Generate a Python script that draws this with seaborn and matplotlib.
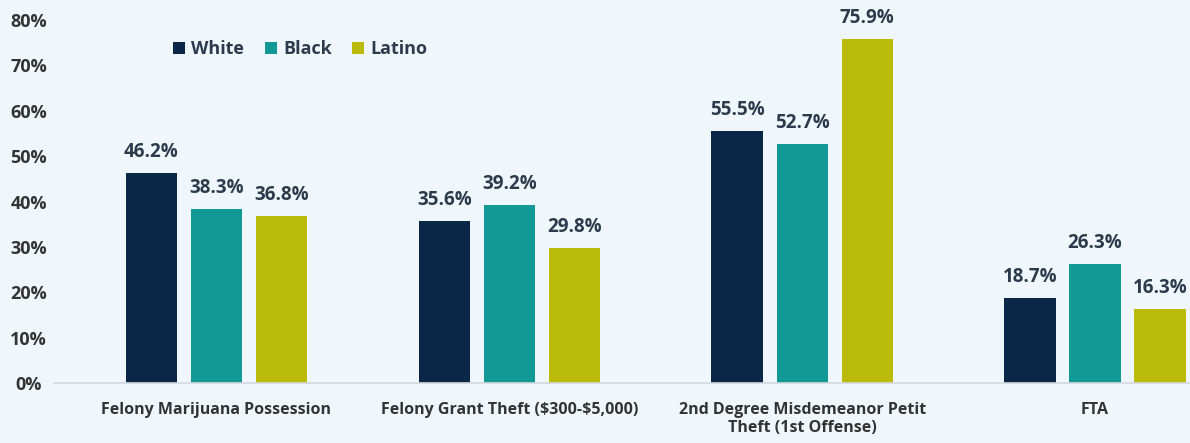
import pandas as pd
import seaborn as sns
import matplotlib.pyplot as plt

categories = ['Felony Marijuana Possession', r'Felony Grant Theft (\$300-\$5,000)',
              '2nd Degree Misdemeanor Petit\nTheft (1st Offense)', 'FTA']
groups = ['White', 'Black', 'Latino']
white = [46.2, 35.6, 55.5, 18.7]
black = [38.3, 39.2, 52.7, 26.3]
latino = [36.8, 29.8, 75.9, 16.3]
yticks = [0, 10, 20, 30, 40, 50, 60, 70, 80]

df = pd.DataFrame({
    'offense': categories * 3,
    'group': ['White'] * 4 + ['Black'] * 4 + ['Latino'] * 4,
    'pct': white + black + latino,
})

bg = '#f0f7fc'
palette = {'White': '#0b2747', 'Black': '#129895', 'Latino': '#b9bb08'}
plt.rcParams['font.family'] = ['Open Sans', 'DejaVu Sans']

fig = plt.figure(figsize=(11.9, 4.43), dpi=100, facecolor=bg)
ax = fig.add_axes([0.045, 0.1354, 0.955, 0.8194])
ax.set_facecolor(bg)

sns.barplot(ax=ax, data=df, x='offense', y='pct', hue='group', order=categories,
            hue_order=groups, palette=palette, width=0.666, gap=0.21,
            saturation=1, errorbar=None)

for c in ax.containers:
    ax.bar_label(c, fmt='%.1f%%', padding=8, fontsize=13.5, fontweight='bold',
                 color='#2c3b4c')

ax.set_xlim(-0.556, 3.324)
ax.set_ylim(0, 80)
ax.set_yticks(yticks)
ax.set_yticklabels([f'{t}%' for t in yticks])
ax.set_xlabel('')
ax.set_ylabel('')
ax.tick_params(axis='both', length=0, colors='#333333')
ax.tick_params(axis='y', pad=18)
ax.tick_params(axis='x', pad=14)
for lab in ax.get_yticklabels() + ax.get_xticklabels():
    lab.set_fontweight('bold')
for lab in ax.get_yticklabels():
    lab.set_fontsize(13)
    lab.set_horizontalalignment('center')
for lab in ax.get_xticklabels():
    lab.set_fontsize(11.5)
    lab.set_linespacing(1.1)
for s in ['top', 'right', 'left']:
    ax.spines[s].set_visible(False)
ax.spines['bottom'].set_color('#d3d8dd')
ax.spines['bottom'].set_linewidth(1.2)

leg = ax.legend(loc='upper left', bbox_to_anchor=(0.091, 0.99), ncol=3, frameon=False,
                handlelength=0.65, handleheight=0.65, handletextpad=0.35, columnspacing=1.15,
                prop={'weight': 'bold', 'size': 13})
for t in leg.get_texts():
    t.set_color('#2c3b4c')

plt.savefig('out.png', dpi=100, facecolor=bg)
